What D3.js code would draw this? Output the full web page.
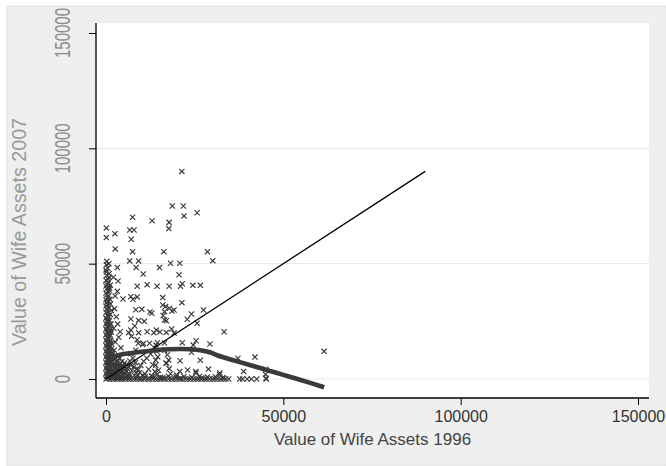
<!DOCTYPE html>
<html>
<head>
<meta charset="utf-8">
<script src="https://cdn.jsdelivr.net/npm/d3@7/dist/d3.min.js"></script>
<style>
  body { margin: 0; background: #ffffff; }
  svg { display: block; }
</style>
</head>
<body>
<svg id="chart" width="666" height="466"></svg>
<script>
// Axis ticks and titles
const xTicks = [0, 50000, 100000, 150000];
const yTicks = [0, 50000, 100000, 150000];
const gridValues = [0, 50000, 100000];
const xTitle = "Value of Wife Assets 1996";
const yTitle = "Value of Wife Assets 2007";

// Wife's assets: [value in 1996, value in 2007]
const wifeAssets = [
  // scattered observations
  [21400, 90000], [18700, 75000], [21800, 75000], [22000, 70700], [25700, 72100],
  [7500, 70100], [13000, 68600], [17800, 67900], [17700, 65200], [100, 65500],
  [6700, 64600], [7900, 64600], [2500, 63000], [100, 61300], [7100, 60600],
  [2600, 56400], [7500, 55200], [16300, 55200], [28600, 55200], [30100, 51300],
  [18200, 50200], [20800, 50200], [200, 51000], [800, 50000], [100, 49500],
  [6700, 51200], [9200, 51200], [3200, 48300], [8500, 48300], [15100, 48300],
  [100, 46400], [10500, 45500], [20600, 45200], [850, 44100], [2100, 44100],
  [3400, 42500], [600, 41900], [8800, 40200], [11600, 40900], [14400, 40200],
  [17800, 40200], [21000, 40200], [21500, 41300], [24500, 40600], [26600, 40600],
  [900, 38600], [3200, 38000], [700, 36000], [2600, 36000], [4800, 34700],
  [7000, 35700], [7600, 34600], [8800, 35600], [16000, 35300], [16000, 32100],
  [16800, 31400], [21400, 33100], [8400, 30000], [10100, 30200], [12400, 29000],
  [12900, 28500], [17900, 30700], [19200, 29900], [18600, 29500], [16500, 29200],
  [16100, 27500], [16500, 25600], [17000, 25300], [7000, 26000], [9200, 25400],
  [10800, 25000], [8100, 23000], [24100, 28200], [22900, 25900], [27500, 29900],
  [25700, 24200], [3300, 23800], [6400, 20100], [7000, 21200], [9200, 20100],
  [11600, 20500], [14200, 21200], [15200, 20400], [13500, 20100], [17000, 20200],
  [18500, 21700], [19200, 19900], [33300, 20500], [3600, 18100], [10300, 15000],
  [10600, 15400], [14500, 15700], [14100, 14700], [16500, 15600], [21500, 15700],
  [24600, 14700], [25400, 16600], [29300, 15200], [61500, 12000], [24100, 11600],
  [37200, 9000], [42000, 9500], [10600, 7700], [14000, 8200], [17700, 8200],
  [16900, 6800], [20900, 7900], [26600, 8100], [28900, 4300], [23000, 3900],
  [25300, 3200], [20800, 3300], [38800, 3300], [45100, 4200], [32000, 1900],
  [45000, 2000], [45100, 300], [19900, 1700], [25400, 2500], [32100, 2600],
  [38500, 0], [39800, 0], [41000, 0], [42500, 0], [45200, 0], [37700, 0],
  [9100, 15500], [12300, 15500], [13800, 13300], [2500, 6800], [6300, 5300],
  [9100, 4000], [13800, 3200], [17100, 6800],
  // low 1996 values, lower band
  [0, 0], [500, 300], [1000, 0], [1500, 500], [200, 1200], [800, 1500], [1400, 1100],
  [0, 2400], [600, 2700], [1200, 2200], [1700, 2600], [300, 3600], [900, 3900], [1500, 3400],
  [0, 4800], [600, 5100], [1200, 4700], [300, 6000], [900, 6300], [1600, 5900],
  [0, 7200], [700, 7500], [1300, 7100], [300, 8400], [1000, 8700], [1600, 8300],
  [0, 9600], [600, 9900], [1200, 9500], [300, 10800], [900, 11100], [1500, 10700],
  [0, 12000], [700, 12300], [1300, 11900], [300, 13200], [1000, 13500], [1600, 13100],
  [0, 14400], [600, 14700], [1200, 14300], [300, 15600], [900, 15900], [1500, 15500],
  [0, 16800], [700, 17100], [1300, 16700], [300, 18000], [1000, 18300],
  [0, 19200], [600, 19500], [1200, 19100], [300, 20400], [900, 20700], [1500, 20300],
  [0, 21600], [700, 21900], [1300, 21500], [300, 22800], [1000, 23100],
  [0, 24000], [600, 24300], [1400, 23900], [300, 25200], [900, 25500],
  // low 1996 values, upper band
  [0, 26400], [800, 26800], [400, 27600], [1200, 28000], [0, 28800], [600, 29300],
  [1500, 29700], [200, 30300], [900, 30800], [0, 31600], [500, 32200], [1300, 32500],
  [200, 33200], [800, 33700], [0, 34400], [500, 35000], [1100, 34600], [300, 36600],
  [0, 37300], [700, 37800], [200, 39000], [1000, 39400], [0, 40300], [400, 41000],
  [1200, 40700], [0, 42800], [600, 43300], [200, 45000], [900, 45600], [0, 47300],
  [500, 48000], [2400, 30500], [2900, 27000], [2200, 22000], [4000, 20500],
  [2600, 16000], [4200, 13500], [2300, 12500], [3000, 10000],
  // small holdings in both years
  [2000, 500], [2600, 1200], [3200, 300], [3800, 900], [4400, 200], [5000, 1400],
  [5600, 600], [6200, 1000], [2200, 2400], [2900, 3100], [3600, 2000], [4300, 3400],
  [5100, 2600], [5800, 3300], [2400, 4600], [3300, 5200], [4100, 4300], [4900, 5600],
  [2100, 6400], [3000, 7300], [3900, 6600], [2600, 8600], [6600, 2100], [7300, 3700],
  [8000, 1500], [8700, 4400], [9500, 2800], [7000, 6000], [8300, 7100], [9800, 5900],
  [11000, 2200], [12000, 4200], [12800, 1300], [13200, 6200], [11500, 9000], [12600, 10800],
  [14300, 12000], [14600, 9600], [14000, 6000], [14800, 3800], [14400, 2000],
  [17300, 10500], [17800, 4500], [16500, 12500], [18200, 2300],
  [7000, 11000], [8400, 12500], [7600, 9000], [8800, 17000], [7200, 18500],
  [1900, 1800], [2700, 2100], [3400, 1300], [4100, 2600], [4700, 1900], [5400, 2200],
  [6000, 1800], [1800, 3900], [2500, 3500], [3200, 4200], [3900, 3700], [4600, 4800],
  [5300, 4100], [6000, 4500], [1900, 5400], [2800, 5900], [3500, 6100], [4300, 5500],
  [5200, 6900], [5900, 6300], [1800, 7600], [3400, 8100], [4500, 7600], [6700, 7800],
  [2200, 9300], [3900, 9100], [1900, 11000], [7800, 5200], [8600, 2600], [10300, 1600],
  // near-zero 2007 values
  [1800, 0], [2500, 0], [3300, 0], [4000, 0], [4800, 0], [5500, 0], [6300, 0],
  [7000, 0], [7800, 0], [8500, 0], [9300, 0], [10000, 0], [10800, 0], [11600, 0],
  [12300, 0], [13100, 0], [13900, 0], [14600, 0], [15400, 0], [16200, 0], [16900, 0],
  [17700, 0], [18500, 0], [19200, 0], [20000, 0], [20800, 0], [21500, 0], [22300, 0],
  [23100, 0], [23800, 0], [24600, 0], [25400, 0], [26100, 0], [26900, 0], [27700, 0],
  [28400, 0], [29200, 0], [30000, 0], [30700, 0], [31500, 0], [32300, 0], [33000, 0],
  [33800, 0], [34600, 0],
  [2200, 900], [4400, 1100], [6600, 800], [8800, 1200], [11000, 900], [13200, 1100],
  [15400, 800], [17600, 1200], [19800, 900], [22000, 1100], [24200, 800], [26400, 1200],
  [28600, 900], [30800, 1000], [3500, 500], [9500, 400], [16000, 500], [21000, 400],
  [27000, 500], [33000, 600]
];

// Locally weighted smooth of 2007 on 1996
const lowess1996 = [0, 1000, 2500, 4000, 7000, 10000, 14000, 18000, 21000, 24000, 27000,
  29500, 31500, 34000, 38000, 42000, 46000, 50000, 54000, 58000, 61500];
const lowess2007 = [6000, 8000, 9800, 10500, 11200, 11800, 12500, 12900, 13000, 12900, 12400,
  11500, 10200, 9000, 7200, 5400, 3600, 1800, 0, -1900, -3600];

// Equality reference line, 1996 = 2007
const equalityLine = [0, 90000];

const W = 666, H = 466;
const plot = { left: 96, right: 649, top: 23, bottom: 398 };

const svg = d3.select("#chart");
const font = "'Liberation Sans', Arial, Helvetica, sans-serif";

const x = d3.scaleLinear().domain([0, 150000]).range([106, 638]);
const y = d3.scaleLinear().domain([0, 150000]).range([379, 33]);

// Outer graph region
svg.append("rect")
  .attr("x", 7).attr("y", 6).attr("width", W - 7).attr("height", H - 6)
  .attr("fill", "#efefef").attr("stroke", "#e2e2e2");

// Plot region
svg.append("rect")
  .attr("x", plot.left).attr("y", plot.top)
  .attr("width", plot.right - plot.left).attr("height", plot.bottom - plot.top)
  .attr("fill", "#ffffff");

// Horizontal grid
svg.append("g").selectAll("line").data(gridValues).join("line")
  .attr("x1", plot.left).attr("x2", plot.right)
  .attr("y1", d => y(d)).attr("y2", d => y(d))
  .attr("stroke", "#ebebeb").attr("stroke-width", 1.2);

// Scatter markers
const marker = "M-2.6,-2.6L2.6,2.6M-2.6,2.6L2.6,-2.6";
svg.append("g").selectAll("path").data(wifeAssets).join("path")
  .attr("transform", d => `translate(${x(d[0])},${y(d[1])})`)
  .attr("d", marker)
  .attr("fill", "none")
  .attr("stroke", "#383838")
  .attr("stroke-width", 1.15);

// Equality line
svg.append("line")
  .attr("x1", x(equalityLine[0])).attr("y1", y(equalityLine[0]))
  .attr("x2", x(equalityLine[1])).attr("y2", y(equalityLine[1]))
  .attr("stroke", "#000000").attr("stroke-width", 1.3);

// Smooth
const smooth = d3.line().curve(d3.curveMonotoneX)
  .x((d, i) => x(lowess1996[i]))
  .y((d, i) => y(lowess2007[i]));
svg.append("path")
  .attr("d", smooth(lowess1996))
  .attr("fill", "none")
  .attr("stroke", "#3a3a3a")
  .attr("stroke-width", 4.6)
  .attr("stroke-linejoin", "round");

// Axis lines
svg.append("line")
  .attr("x1", plot.left).attr("x2", plot.left)
  .attr("y1", plot.top).attr("y2", plot.bottom)
  .attr("stroke", "#000").attr("stroke-width", 1.3);
svg.append("line")
  .attr("x1", plot.left).attr("x2", plot.right)
  .attr("y1", plot.bottom).attr("y2", plot.bottom)
  .attr("stroke", "#000").attr("stroke-width", 1.3);

// X axis ticks and labels
const xAxis = d3.axisBottom(x).tickValues(xTicks).tickSize(7).tickPadding(6)
  .tickFormat(d3.format("d"));
const gx = svg.append("g").attr("transform", `translate(0,${plot.bottom})`).call(xAxis);
gx.select(".domain").remove();
gx.selectAll(".tick line").attr("stroke", "#000");
gx.selectAll(".tick text")
  .attr("font-family", font).attr("font-size", 16)
  .attr("fill", "#333333");

// Y axis ticks
const yAxis = d3.axisLeft(y).tickValues(yTicks).tickSize(7).tickFormat("");
const gy = svg.append("g").attr("transform", `translate(${plot.left},0)`).call(yAxis);
gy.select(".domain").remove();
gy.selectAll(".tick line").attr("stroke", "#000");

// Y tick labels, rotated
svg.append("g").selectAll("text").data(yTicks).join("text")
  .attr("transform", d => `translate(62,${y(d)}) rotate(-90) scale(1,1.5)`)
  .attr("text-anchor", "middle")
  .attr("dy", "0.35em")
  .attr("font-family", font).attr("font-size", 15)
  .attr("fill", "#8c8c8c")
  .text(d => d3.format("d")(d));

// Titles
svg.append("text")
  .attr("x", (plot.left + plot.right) / 2).attr("y", 445)
  .attr("text-anchor", "middle")
  .attr("font-family", font).attr("font-size", 17)
  .attr("fill", "#444444")
  .text(xTitle);

svg.append("text")
  .attr("transform", "translate(19,232) rotate(-90) scale(1,1.15)")
  .attr("text-anchor", "middle")
  .attr("dy", "0.35em")
  .attr("font-family", font).attr("font-size", 18)
  .attr("textLength", 228).attr("lengthAdjust", "spacingAndGlyphs")
  .attr("fill", "#999999")
  .text(yTitle);
</script>
</body>
</html>
